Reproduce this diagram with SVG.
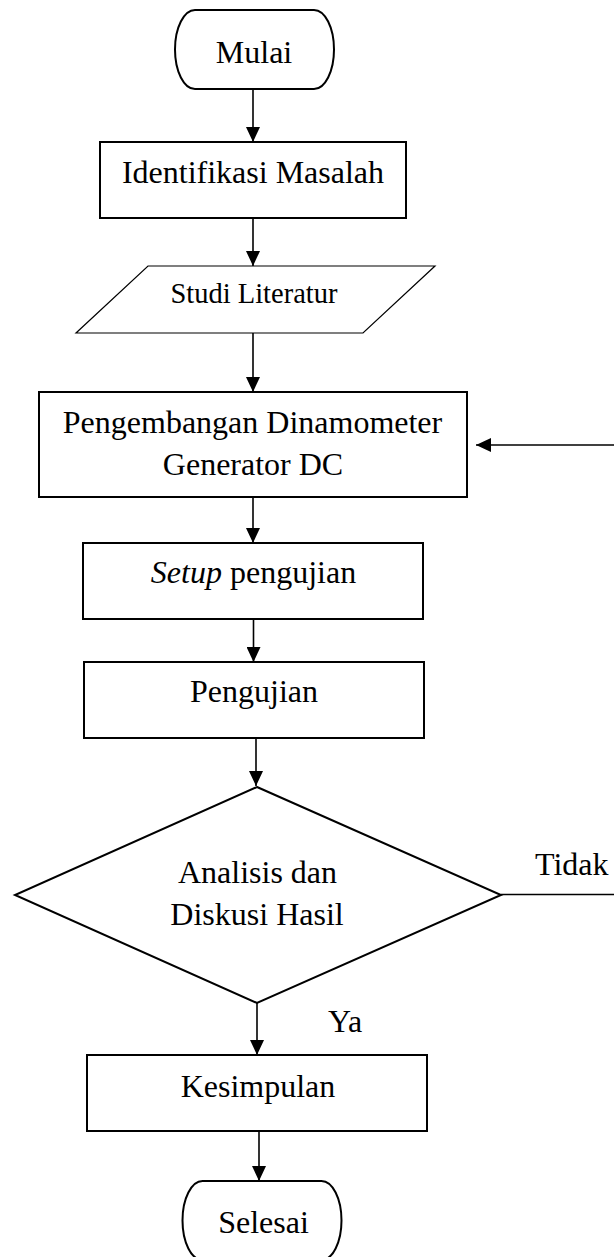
<svg xmlns="http://www.w3.org/2000/svg" width="614" height="1257" viewBox="0 0 614 1257">
<style>
.box{fill:#fff;stroke:#000;stroke-width:2}
.thin{fill:#fff;stroke:#000;stroke-width:1.2}
.con{fill:none;stroke:#000;stroke-width:1.6}
text{font-family:"Liberation Serif","Times New Roman",serif;font-size:32px;fill:#000;text-anchor:middle}
.sm{font-size:28.5px}
.lab{text-anchor:start}
</style>
<defs>
<marker id="arr" markerUnits="userSpaceOnUse" markerWidth="16" markerHeight="14" refX="15" refY="7" orient="auto">
<path d="M0,0 L15,7 L0,14 z" fill="#000"/>
</marker>
</defs>
<rect width="614" height="1257" fill="#fff"/>
<g id="connectors">
<line class="con" x1="253" y1="89" x2="253" y2="142" marker-end="url(#arr)"/>
<line class="con" x1="253" y1="218" x2="253" y2="266" marker-end="url(#arr)"/>
<line class="con" x1="253" y1="333" x2="253" y2="392" marker-end="url(#arr)"/>
<line class="con" x1="253" y1="497" x2="253" y2="543" marker-end="url(#arr)"/>
<line class="con" x1="253.5" y1="619" x2="253.5" y2="662" marker-end="url(#arr)"/>
<line class="con" x1="256" y1="738" x2="256" y2="786" marker-end="url(#arr)"/>
<line class="con" x1="257" y1="1003" x2="257" y2="1055" marker-end="url(#arr)"/>
<line class="con" x1="259" y1="1131" x2="259" y2="1181" marker-end="url(#arr)"/>
<line class="con" x1="501" y1="894.5" x2="614" y2="894.5"/>
<line class="con" x1="614" y1="445" x2="476" y2="445" marker-end="url(#arr)"/>
<text class="lab" x="535" y="875">Tidak</text>
<text class="lab" x="328" y="1032">Ya</text>
</g>
<g id="mulai">
<rect class="box" x="175" y="10" width="159" height="79" rx="20" ry="39.5"/>
<text x="254" y="63">Mulai</text>
</g>
<g id="identifikasi">
<rect class="box" x="100" y="142" width="306" height="76"/>
<text x="253" y="183">Identifikasi Masalah</text>
</g>
<g id="studi">
<polygon class="thin" points="148,266 435,266 363,333 76,333"/>
<text class="sm" x="254" y="303">Studi Literatur</text>
</g>
<g id="pengembangan">
<rect class="box" x="39" y="392" width="428" height="105"/>
<text x="252.5" y="433">Pengembangan Dinamometer</text>
<text x="253" y="475">Generator DC</text>
</g>
<g id="setup">
<rect class="box" x="83" y="543" width="340" height="76"/>
<text x="253.5" y="583"><tspan font-style="italic">Setup</tspan> pengujian</text>
</g>
<g id="pengujian">
<rect class="box" x="84" y="662" width="340" height="76"/>
<text x="254" y="702">Pengujian</text>
</g>
<g id="analisis">
<polygon class="box" points="257,787 501,895 257,1003 15,895"/>
<text x="257.5" y="883">Analisis dan</text>
<text x="257" y="925">Diskusi Hasil</text>
</g>
<g id="kesimpulan">
<rect class="box" x="87" y="1055" width="340" height="76"/>
<text x="258" y="1097">Kesimpulan</text>
</g>
<g id="selesai">
<rect class="box" x="182.5" y="1181" width="159" height="79" rx="20" ry="39.5"/>
<text x="263.5" y="1233">Selesai</text>
</g>
</svg>
